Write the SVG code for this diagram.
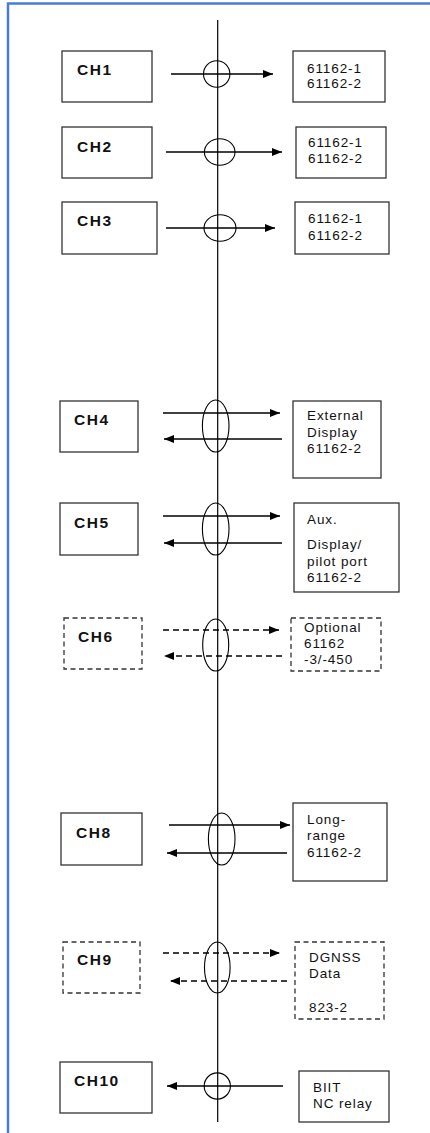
<svg xmlns="http://www.w3.org/2000/svg" width="430" height="1133" viewBox="0 0 430 1133">
<style>
.box{fill:#fff;stroke:#333;stroke-width:1.3}
.dbox{fill:#fff;stroke:#333;stroke-width:1.3;stroke-dasharray:5,3.5}
.ch{font-family:"Liberation Sans",Arial,sans-serif;font-weight:bold;font-size:15.5px;letter-spacing:1.5px;fill:#111}
.lbl{font-family:"Liberation Sans",Arial,sans-serif;font-size:13.5px;letter-spacing:0.9px;fill:#111}
.ln{stroke:#000;stroke-width:1.5;fill:none}
.dln{stroke:#000;stroke-width:1.5;fill:none;stroke-dasharray:6,4}
.ring{stroke:#000;stroke-width:1.1;fill:none}
</style>
<defs>
<marker id="ah" viewBox="0 0 10 8" refX="10" refY="4" markerWidth="10" markerHeight="8" markerUnits="userSpaceOnUse" orient="auto">
<path d="M0,0 L10,4 L0,8 Z" fill="#000"/>
</marker>
</defs>
<rect width="430" height="1133" fill="#fff"/>
<path d="M8,1133 V3.5 H430" fill="none" stroke="#4a7bd4" stroke-width="2.5"/>
<g id="bus">
<line x1="217.7" y1="20" x2="217.7" y2="1122" stroke="#000" stroke-width="1.2"/>
</g>
<g id="connectors">
<line class="ln" x1="171" y1="74" x2="273" y2="74" marker-end="url(#ah)"/>
<circle class="ring" cx="216.7" cy="74" r="13.2"/>
<line class="ln" x1="166" y1="152" x2="282" y2="152" marker-end="url(#ah)"/>
<ellipse class="ring" cx="219.7" cy="152" rx="15.3" ry="13.3"/>
<line class="ln" x1="166" y1="228" x2="275" y2="228" marker-end="url(#ah)"/>
<ellipse class="ring" cx="220" cy="228" rx="16" ry="13.3"/>
<line class="ln" x1="163" y1="413" x2="280" y2="413" marker-end="url(#ah)"/>
<line class="ln" x1="282" y1="439" x2="164" y2="439" marker-end="url(#ah)"/>
<ellipse class="ring" cx="215.7" cy="426" rx="13.3" ry="26"/>
<line class="ln" x1="163" y1="516" x2="280" y2="516" marker-end="url(#ah)"/>
<line class="ln" x1="282" y1="543" x2="164" y2="543" marker-end="url(#ah)"/>
<ellipse class="ring" cx="215.7" cy="529" rx="13.3" ry="26"/>
<line class="dln" x1="163" y1="630" x2="279" y2="630" marker-end="url(#ah)"/>
<line class="dln" x1="282" y1="656" x2="164" y2="656" marker-end="url(#ah)"/>
<ellipse class="ring" cx="215.7" cy="645" rx="13" ry="26"/>
<line class="ln" x1="169" y1="825" x2="290" y2="825" marker-end="url(#ah)"/>
<line class="ln" x1="287" y1="853" x2="167" y2="853" marker-end="url(#ah)"/>
<ellipse class="ring" cx="221.7" cy="839" rx="13.3" ry="26"/>
<line class="dln" x1="163" y1="953" x2="280" y2="953" marker-end="url(#ah)"/>
<line class="dln" x1="287" y1="981" x2="170" y2="981" marker-end="url(#ah)"/>
<ellipse class="ring" cx="217.3" cy="967.5" rx="12.8" ry="25.5"/>
<line class="ln" x1="283" y1="1086" x2="167" y2="1086" marker-end="url(#ah)"/>
<circle class="ring" cx="217.3" cy="1086" r="13.1"/>
</g>
<g id="ch1"><rect class="box" x="62" y="51" width="90" height="51"/><text class="ch" x="77" y="75">CH1</text></g>
<g id="ch2"><rect class="box" x="62" y="127" width="90" height="51"/><text class="ch" x="77" y="152">CH2</text></g>
<g id="ch3"><rect class="box" x="62" y="202" width="95" height="52"/><text class="ch" x="77" y="226">CH3</text></g>
<g id="ch4"><rect class="box" x="60" y="401" width="78" height="51"/><text class="ch" x="74" y="425">CH4</text></g>
<g id="ch5"><rect class="box" x="60" y="503" width="78" height="52"/><text class="ch" x="74" y="528">CH5</text></g>
<g id="ch6"><rect class="dbox" x="64" y="618" width="78" height="51"/><text class="ch" x="78" y="642">CH6</text></g>
<g id="ch8"><rect class="box" x="61" y="813" width="81" height="52"/><text class="ch" x="76" y="838">CH8</text></g>
<g id="ch9"><rect class="dbox" x="63" y="942" width="77" height="51"/><text class="ch" x="77" y="965">CH9</text></g>
<g id="ch10"><rect class="box" x="60" y="1062" width="92" height="51"/><text class="ch" x="74" y="1086">CH10</text></g>
<g id="r1"><rect class="box" x="293" y="51" width="92" height="51"/><text class="lbl" x="307" y="73">61162-1</text><text class="lbl" x="307" y="88">61162-2</text></g>
<g id="r2"><rect class="box" x="296" y="127" width="90" height="51"/><text class="lbl" x="308" y="147">61162-1</text><text class="lbl" x="308" y="163">61162-2</text></g>
<g id="r3"><rect class="box" x="295" y="202" width="94" height="52"/><text class="lbl" x="308" y="223">61162-1</text><text class="lbl" x="308" y="240">61162-2</text></g>
<g id="r4"><rect class="box" x="293" y="401" width="88" height="77"/><text class="lbl" x="307" y="420">External</text><text class="lbl" x="307" y="437">Display</text><text class="lbl" x="307" y="453">61162-2</text></g>
<g id="r5"><rect class="box" x="294" y="503" width="105" height="89"/><text class="lbl" x="307" y="524">Aux.</text><text class="lbl" x="307" y="549">Display/</text><text class="lbl" x="307" y="566">pilot port</text><text class="lbl" x="307" y="582">61162-2</text></g>
<g id="r6"><rect class="dbox" x="291" y="618" width="90" height="53"/><text class="lbl" x="304" y="632">Optional</text><text class="lbl" x="304" y="648">61162</text><text class="lbl" x="304" y="664">-3/-450</text></g>
<g id="r8"><rect class="box" x="293" y="803" width="94" height="78"/><text class="lbl" x="307" y="824">Long-</text><text class="lbl" x="307" y="840">range</text><text class="lbl" x="307" y="857">61162-2</text></g>
<g id="r9"><rect class="dbox" x="295" y="942" width="89" height="77"/><text class="lbl" x="309" y="962">DGNSS</text><text class="lbl" x="309" y="978">Data</text><text class="lbl" x="309" y="1012">823-2</text></g>
<g id="r10"><rect class="box" x="299" y="1071" width="90" height="51"/><text class="lbl" x="313" y="1092">BIIT</text><text class="lbl" x="313" y="1108">NC relay</text></g>
</svg>
